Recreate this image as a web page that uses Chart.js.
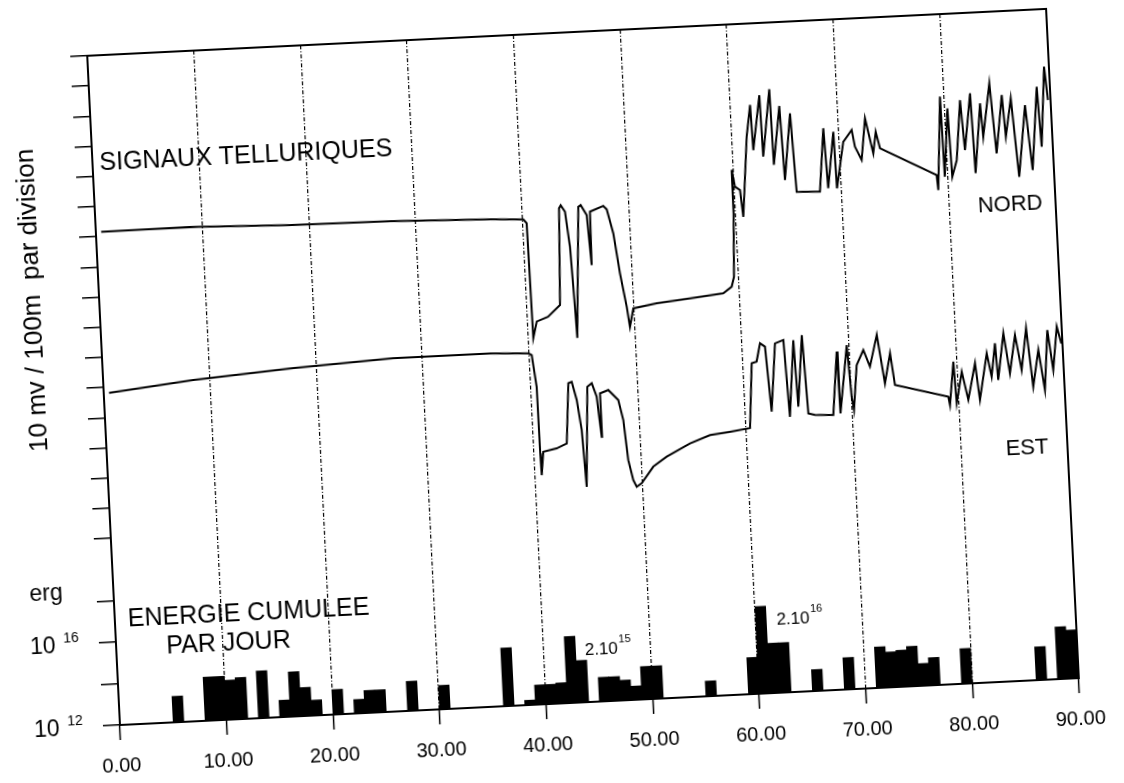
<!DOCTYPE html>
<html>
<head>
<meta charset="utf-8">
<script src="https://cdn.jsdelivr.net/npm/chart.js@4.4.0/dist/chart.umd.min.js"></script>
<style>
  html, body { margin: 0; padding: 0; background: #fff; overflow: hidden; }
  #cadre { position: absolute; left: 0; top: 0; width: 1124px; height: 783px;
           transform: rotate(-2.8deg); transform-origin: 582px 366.5px; }
</style>
</head>
<body>
<div id="cadre"><canvas id="grafico" width="1124" height="783"></canvas></div>
<script>
// Graduations des axes
const graduationsX = [0, 10, 20, 30, 40, 50, 60, 70, 80, 90];
const graduationsSignal = [0, 1, 2, 3, 4, 5, 6, 7, 8, 9, 10, 11, 12, 13, 14, 15, 16];
const graduationsEnergie = [12, 14, 16, 18]; // exposants de 10 (erg)

// Signal tellurique NORD (jours, divisions)
const nordX = [0.5, 8.84, 18.21, 27.6, 36.97, 40.08, 40.38, 40.48, 40.87, 41.95, 43.13, 43.48, 43.65, 44.02, 44.33, 44.52, 44.6,
  45.29, 45.52, 46.04, 46.28, 46.36, 47.63, 47.94, 48.45, 48.89, 49.37, 49.58, 49.98, 52.19, 55.33, 58.47, 59.29, 59.55,
  59.8, 59.82, 60.05, 60.51, 60.7, 61.38, 61.84, 61.94, 62.75, 62.84, 63.71, 63.8, 64.57, 64.77, 65.54, 65.81, 67.99,
  68.59, 68.78, 69.51, 69.6, 70.4, 71.24, 71.47, 72.04, 72.54, 73.16, 73.48, 73.81, 78.99, 79.08, 79.66, 79.75, 80.3,
  80.45, 80.94, 81.52, 81.76, 82.49, 82.65, 83.38, 83.53, 84.34, 84.71, 85.45, 85.65, 86.28, 86.72, 87.58, 88.01, 88.76,
  88.96, 89.54, 89.76];
const nordY = [10.15, 10.17, 10.07, 10.04, 9.94, 9.88, 9.75, 5.94, 6.48, 6.62, 6.99, 10.19, 10.29, 10.07, 8.9, 6.91, 5.87,
  10.21, 10.26, 9.92, 8.26, 10.03, 10.2, 10.08, 9.27, 7.94, 6.82, 6.15, 6.76, 6.89, 7.0, 7.11, 7.32, 7.64,
  9.74, 11.18, 10.62, 10.5, 9.61, 12.26, 13.3, 11.8, 13.61, 11.57, 13.79, 11.28, 13.22, 10.76, 12.96, 10.35, 10.32,
  12.41, 10.42, 12.28, 10.4, 11.93, 12.31, 11.75, 11.3, 12.67, 11.5, 12.21, 11.66, 10.68, 10.18, 13.27, 10.61, 12.87,
  10.6, 11.14, 13.12, 11.46, 13.33, 10.68, 12.98, 11.87, 13.63, 11.3, 13.22, 11.84, 13.1, 10.49, 12.85, 10.69, 13.44,
  11.45, 14.09, 12.98];

// Signal tellurique EST (jours, divisions)
const estX = [0.5, 8.45, 17.87, 27.27, 36.35, 39.94, 40.25, 40.57, 40.6, 40.64, 40.89, 42.16, 43.13, 43.55, 43.87, 44.26,
  44.59, 44.8, 45.31, 45.74, 46.14, 46.43, 46.47, 47.26, 48.15, 48.53, 48.81, 49.19, 49.48, 49.96, 51.12, 52.43, 54.67,
  56.58, 58.46, 60.36, 60.81, 61.28, 61.68, 62.13, 62.46, 63.08, 63.88, 64.15, 64.81, 64.98, 65.63, 65.89, 66.5, 68.22,
  68.82, 68.9, 69.79, 70.02, 70.18, 70.63, 71.32, 71.87, 72.65, 73.2, 73.81, 74.13, 79.07, 79.19, 79.7, 79.83, 80.44,
  80.93, 81.72, 82.02, 82.86, 83.22, 83.68, 83.82, 84.51, 84.95, 85.59, 86.06, 86.66, 87.07, 87.71, 88.15, 88.64, 89.02,
  89.54, 89.9];
const estY = [4.81, 5.1, 5.33, 5.5, 5.5, 5.44, 5.38, 4.32, 2.11, 1.39, 2.16, 2.25, 2.4, 4.39, 4.43, 3.82,
  2.82, 0.93, 4.24, 4.35, 3.9, 2.56, 4.0, 4.1, 3.75, 3.08, 1.75, 1.08, 0.85, 0.96, 1.49, 1.8, 2.2,
  2.44, 2.52, 2.61, 4.75, 4.8, 5.4, 5.28, 3.12, 5.37, 5.47, 2.92, 5.45, 3.24, 5.6, 3.0, 2.94, 2.91,
  5.0, 2.95, 5.2, 3.48, 3.04, 4.52, 5.01, 4.45, 5.49, 3.87, 4.86, 3.8, 3.33, 3.05, 4.48, 3.1, 4.13,
  3.19, 4.39, 3.17, 4.7, 3.92, 5.02, 3.8, 5.34, 4.0, 5.26, 4.09, 5.47, 3.52, 4.73, 3.39, 5.37, 4.04,
  5.47, 4.9];

// Energie cumulee par jour : jour et exposant (10^n erg)
const joursEnergie = [5, 8, 9, 10, 11, 13, 15, 16, 17, 18, 20, 22, 23, 24, 27, 30, 36, 38, 39, 40, 41, 42, 43, 45, 46,
  47, 48, 49, 50, 55, 59, 60, 61, 62, 65, 68, 71, 72, 73, 74, 75, 76, 79, 86, 88, 89];
const expEnergie = [13.25, 14.1, 14.1, 13.9, 14.0, 14.27, 12.81, 14.15, 13.37, 12.74, 13.2, 12.67, 13.08, 13.08, 13.42,
  13.15, 14.8, 12.23, 12.94, 12.94, 12.99, 15.2, 14.02, 13.16, 13.16, 12.97, 12.66, 13.58, 13.58, 12.73, 13.76, 16.2,
  14.4, 14.4, 13.03, 13.53, 13.97, 13.7, 13.76, 13.92, 13.07, 13.33, 13.69, 13.6, 14.51, 14.33];

const expMin = 12, expMax = 21;
const police = (t) => t + 'px "Liberation Sans", Arial, sans-serif';

// Textes et cadre dessines par-dessus le graphique
const annotations = {
  id: 'annotations',
  afterDraw(chart) {
    const { ctx, chartArea: a } = chart;
    const sx = chart.scales.x, sy = chart.scales.y, se = chart.scales.yE;
    const px = (v) => sx.getPixelForValue(v);
    const py = (v) => sy.getPixelForValue(v);
    const pe = (e) => se.getPixelForValue(Math.pow(10, e));

    ctx.save();
    ctx.strokeStyle = '#000';
    ctx.lineWidth = 2;
    ctx.strokeRect(a.left, a.top, a.right - a.left, a.bottom - a.top);

    ctx.fillStyle = '#000';
    ctx.textBaseline = 'alphabetic';
    ctx.textAlign = 'left';

    function texte(str, x, y, taille) {
      ctx.font = police(taille);
      ctx.fillText(str, x, y);
    }
    function puissance(base, exp, x, y, taille, tailleExp, ecart, montee) {
      ctx.font = police(taille);
      ctx.fillText(base, x, y);
      const w = ctx.measureText(base).width;
      ctx.font = police(tailleExp);
      ctx.fillText(exp, x + w + ecart, y - montee);
    }

    texte('SIGNAUX TELLURIQUES', px(0.66), py(12.2), 25);
    texte('NORD', px(82.7), py(9.36), 22);
    texte('EST', px(84.2), py(1.3), 22);
    texte('ENERGIE CUMULEE', px(1.23), pe(16.7), 25);
    texte('PAR JOUR', px(4.7), pe(15.33), 25);
    puissance('2.10', '15', px(43.87), pe(14.27), 17, 11, 1, 11);
    puissance('2.10', '16', px(61.96), pe(15.26), 17, 11, 1, 11);

    // libelles de l'axe des energies
    puissance('10', '12', 17, pe(12) + 8, 23, 14, 8, 10);
    puissance('10', '16', 17, pe(16) + 8, 23, 14, 8, 10);
    texte('erg', 19, pe(18) - 3, 23);

    // titre de l'axe vertical
    ctx.translate(37, (sy.top + sy.bottom) / 2);
    ctx.rotate(-Math.PI / 2);
    ctx.textAlign = 'center';
    ctx.textBaseline = 'middle';
    ctx.font = police(26);
    ctx.fillText('10 mv / 100m  par division', 0, 0);
    ctx.restore();
  }
};

Chart.defaults.font.family = '"Liberation Sans", Arial, sans-serif';
Chart.defaults.color = '#000';

const ctx = document.getElementById('grafico').getContext('2d');
new Chart(ctx, {
  type: 'line',
  data: {
    datasets: [
      {
        label: 'NORD',
        data: nordX.map((x, i) => ({ x: x, y: nordY[i] })),
        yAxisID: 'y',
        borderColor: '#000',
        borderWidth: 2,
        pointRadius: 0,
        tension: 0
      },
      {
        label: 'EST',
        data: estX.map((x, i) => ({ x: x, y: estY[i] })),
        yAxisID: 'y',
        borderColor: '#000',
        borderWidth: 2,
        pointRadius: 0,
        tension: 0
      },
      {
        type: 'bar',
        label: 'Energie',
        data: joursEnergie.map((j, i) => ({ x: j + 0.5, y: [Math.pow(10, expMin), Math.pow(10, expEnergie[i])] })),
        yAxisID: 'yE',
        backgroundColor: '#000',
        borderWidth: 0,
        barPercentage: 1,
        categoryPercentage: 1,
        grouped: false
      }
    ]
  },
  options: {
    responsive: false,
    animation: false,
    layout: { padding: { left: 0, top: 32, right: 61, bottom: 0 } },
    plugins: { legend: { display: false }, tooltip: { enabled: false } },
    scales: {
      x: {
        type: 'linear',
        min: 0,
        max: 90,
        offset: false,
        afterBuildTicks: (scale) => { scale.ticks = graduationsX.map(v => ({ value: v })); },
        afterFit: (scale) => { scale.height = 81; },
        ticks: {
          autoSkip: false,
          maxRotation: 0,
          padding: 14,
          font: { size: 20 },
          color: '#000',
          callback: (v) => Number(v).toFixed(2)
        },
        grid: {
          offset: false,
          drawOnChartArea: true,
          tickLength: 15,
          lineWidth: 1.2,
          color: (c) => (c.tick && c.tick.value % 90 === 0) ? 'rgba(0,0,0,0)' : '#000',
          tickColor: '#000',
          tickWidth: 1.5
        },
        border: { display: false, dash: [4, 2, 1, 2] }
      },
      yE: {
        type: 'logarithmic',
        position: 'left',
        stack: 'gauche',
        stackWeight: 187,
        min: Math.pow(10, expMin),
        max: Math.pow(10, expMax),
        afterBuildTicks: (scale) => { scale.ticks = graduationsEnergie.map(e => ({ value: Math.pow(10, e) })); },
        afterFit: (scale) => { scale.width = 103; },
        ticks: { display: false, autoSkip: false },
        grid: { drawOnChartArea: false, tickLength: 17, color: '#000', lineWidth: 1.5 },
        border: { display: false }
      },
      y: {
        type: 'linear',
        position: 'left',
        stack: 'gauche',
        stackWeight: 483,
        min: 0,
        max: 16,
        afterBuildTicks: (scale) => { scale.ticks = graduationsSignal.map(v => ({ value: v })); },
        afterFit: (scale) => { scale.width = 103; },
        ticks: { display: false, autoSkip: false },
        grid: { drawOnChartArea: false, tickLength: 17, color: '#000', lineWidth: 1.5 },
        border: { display: false }
      }
    }
  },
  plugins: [annotations]
});
</script>
</body>
</html>
